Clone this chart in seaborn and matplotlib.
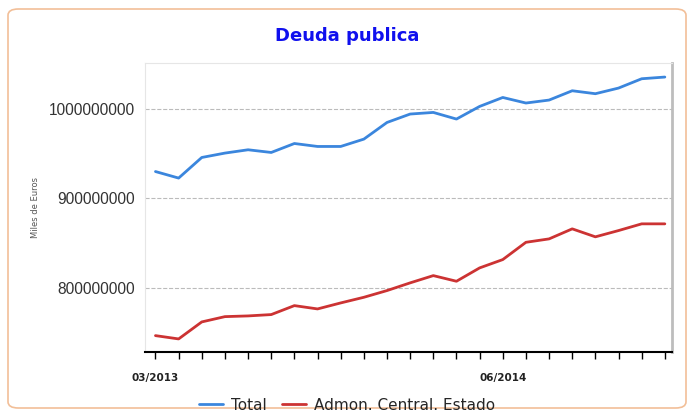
import pandas as pd
import matplotlib.pyplot as plt
import seaborn as sns
from matplotlib.patches import FancyBboxPatch

# ================= DATOS =================
meses = ['03/2013', '04/2013', '05/2013', '06/2013', '07/2013', '08/2013',
         '09/2013', '10/2013', '11/2013', '12/2013', '01/2014', '02/2014',
         '03/2014', '04/2014', '05/2014', '06/2014', '07/2014', '08/2014',
         '09/2014', '10/2014', '11/2014', '12/2014', '01/2015']

total = [929.9, 922.6, 945.6, 950.5, 954.2, 951.2, 961.2, 957.9, 957.9,
         966.1, 984.7, 994.1, 995.9, 988.5, 1002.6, 1012.6, 1006.4, 1009.7,
         1020.1, 1016.8, 1023.1, 1033.5, 1035.4]

admon_central = [746.7, 743.0, 762.0, 767.9, 768.7, 770.2, 780.2, 776.5,
                 783.2, 789.5, 797.0, 805.6, 813.7, 807.4, 822.3, 831.6,
                 850.9, 854.7, 865.9, 857.0, 864.0, 871.5, 871.5]

series = ['Total', 'Admon. Central. Estado']
etiquetas_visibles = ['03/2013', '06/2014']

# millones -> unidades
df = pd.DataFrame({
    'idx': list(range(len(meses))) * 2,
    'valor': [v * 1e6 for v in total] + [v * 1e6 for v in admon_central],
    'serie': [series[0]] * len(meses) + [series[1]] * len(meses),
})

# ================= GRÁFICO =================
sns.set_style("white")
plt.rcParams['font.family'] = ['DejaVu Sans']

fig = plt.figure(figsize=(6.94, 4.15), dpi=100)
ax = fig.add_axes([0.209, 0.152, 0.759, 0.696])

# marco naranja redondeado
marco = FancyBboxPatch((8 / 694, 7 / 415), 678 / 694, 399 / 415,
                       boxstyle="round,pad=0,rounding_size=0.015",
                       transform=fig.transFigure, facecolor='none',
                       edgecolor='#f2bf98', linewidth=1.2, zorder=0)
fig.patches.append(marco)

sns.lineplot(data=df, x='idx', y='valor', hue='serie',
             palette={'Total': '#3b86dd', 'Admon. Central. Estado': '#cc3333'},
             linewidth=2, ax=ax, legend=False)

ax.set_xlim(-0.45, len(meses) - 0.7)
ax.set_ylim(728.5e6, 1051e6)

ax.set_yticks([800e6, 900e6, 1000e6])
ax.set_yticklabels(['800000000', '900000000', '1000000000'],
                   fontsize=11.2, color='#333333', family='Liberation Sans')
ax.yaxis.grid(True, linestyle='--', color='#bbbbbb', linewidth=0.8)
ax.tick_params(axis='y', left=False, length=0, pad=7)

ax.set_xticks(range(len(meses)))
ax.set_xticklabels([m if m in etiquetas_visibles else '' for m in meses],
                   fontsize=7.5, fontweight='bold', color='#222222')
ax.tick_params(axis='x', bottom=True, length=5, width=1, color='black',
               direction='out', pad=10)

ax.set_xlabel('')
ax.set_ylabel('Miles de Euros', fontsize=6, color='#555555')
ax.yaxis.set_label_coords(-0.2, 0.5)

for lado in ['top', 'left']:
    ax.spines[lado].set_color('#e6e6e6')
ax.spines['right'].set_color('#bdbdbd')
ax.spines['right'].set_linewidth(2)
ax.spines['bottom'].set_color('black')
ax.spines['bottom'].set_linewidth(1.5)

fig.text(0.5, 0.913, 'Deuda publica', ha='center', va='center',
         fontsize=13, fontweight='bold', color='#1010ee')

# leyenda
handles = [plt.Line2D([], [], color='#3b86dd', linewidth=2),
           plt.Line2D([], [], color='#cc3333', linewidth=2)]
fig.legend(handles, series, loc='center', bbox_to_anchor=(0.5, 0.024),
           ncol=2, frameon=False, fontsize=11, handlelength=1.6,
           handletextpad=0.5, columnspacing=1.0)

plt.savefig('out.png', dpi=100)
